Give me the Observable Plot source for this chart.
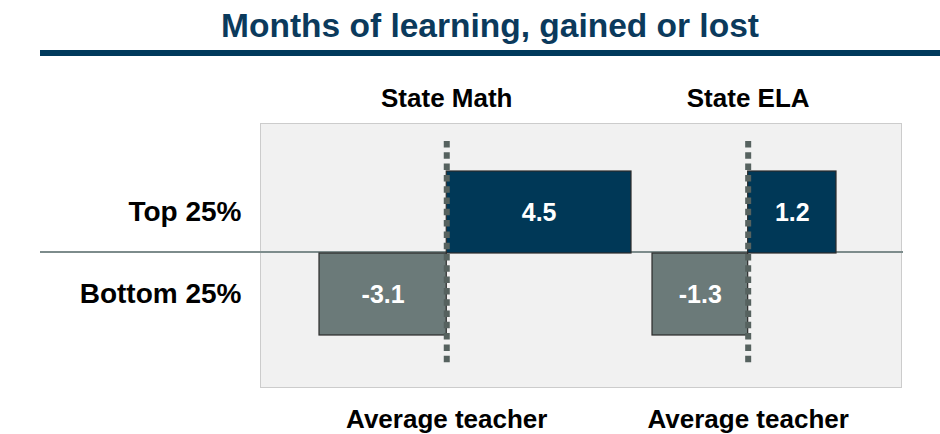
<!DOCTYPE html>
<html>
<head>
<meta charset="utf-8">
<script src="https://cdn.jsdelivr.net/npm/d3@7"></script>
<script src="https://cdn.jsdelivr.net/npm/@observablehq/plot@0.6"></script>
<style>
  html, body { margin: 0; padding: 0; background: #fff; }
  body { width: 940px; height: 434px; overflow: hidden; font-family: "Liberation Sans", Arial, sans-serif; }
  #title { position: absolute; left: 40px; top: 9px; width: 900px; text-align: center;
           font-size: 33.5px; line-height: 33px; font-weight: bold; color: #0b3a5c; }
  #rule { position: absolute; left: 40px; top: 50px; width: 900px; height: 6px; background: #003a5c; }
  #area { position: absolute; left: 0; top: 60px; width: 940px; height: 374px; }
  #panel { position: absolute; left: 260px; top: 63px; width: 640px; height: 263px;
           background: #f1f1f1; border: 1.5px solid #cccccc; }
  #baseline { position: absolute; left: 40px; top: 191px; width: 863px; height: 2px; background: #7d8c8c; }
  #area svg { position: absolute; left: 0; top: 0; }
</style>
</head>
<body>
<div id="title"></div>
<div id="rule"></div>
<div id="area"><div id="panel"></div><div id="baseline"></div></div>
<script>
const chartTitle = "Months of learning, gained or lost";
const rows = ["Top 25%", "Bottom 25%"];
const subjects = ["State Math", "State ELA"];
const mathValues = [4.5, -3.1];
const elaValues = [1.2, -1.3];
const referenceLabel = "Average teacher";

const NAVY = "#003857";
const GREY = "#6b7a79";
const DOT = "#56625f";
const FONT = "Liberation Sans, Arial, sans-serif";

document.getElementById("title").textContent = chartTitle;

function panel(subject, values, marginLeft, marginRight, showRows) {
  const data = rows.map((row, i) => ({row, value: values[i]}));
  const marks = [
    Plot.barX(data, {x1: 0, x2: "value", y: "row", fill: "row", stroke: "#2b2b2b", strokeWidth: 1.2}),
    Plot.ruleX([0], {stroke: DOT, strokeWidth: 6, strokeDasharray: "6.5,4.8", insetTop: -29, insetBottom: -31}),
    Plot.text(data, {x: d => d.value / 2, y: "row", text: d => d.value.toFixed(1), fill: "white",
                     fontSize: 25, fontWeight: "bold"}),
    Plot.text([0], {x: d => d, frameAnchor: "top", text: () => subject, dy: -72, lineAnchor: "middle",
                    fontSize: 26, fontWeight: "bold", fill: "black"}),
    Plot.text([0], {x: d => d, frameAnchor: "bottom", text: () => referenceLabel, dy: 84, lineAnchor: "middle",
                    fontSize: 26, fontWeight: "bold", fill: "black"})
  ];
  if (showRows) {
    marks.push(Plot.axisY({tickSize: 0, tickPadding: 78, fontSize: 28, fontWeight: "bold", fill: "black", label: null}));
  }
  return Plot.plot({
    width: 940,
    height: 374,
    marginLeft, marginRight,
    marginTop: 110,
    marginBottom: 99,
    style: {background: "transparent", fontFamily: FONT, color: "black", overflow: "visible"},
    x: {domain: d3.extent(values), axis: null},
    y: {domain: rows, padding: 0, axis: null, label: null},
    color: {domain: rows, range: [NAVY, GREY]},
    marks
  });
}

const area = document.getElementById("area");
area.appendChild(panel(subjects[0], mathValues, 319, 309, true));
area.appendChild(panel(subjects[1], elaValues, 652, 104, false));
</script>
</body>
</html>
